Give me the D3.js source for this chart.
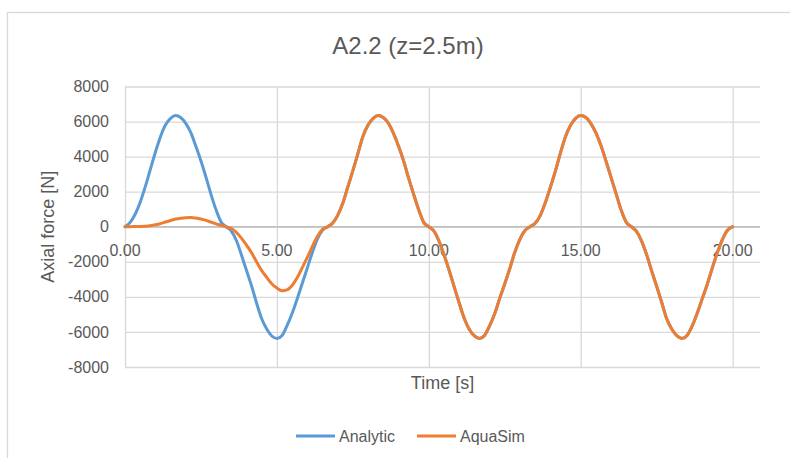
<!DOCTYPE html>
<html>
<head>
<meta charset="utf-8">
<script src="https://cdn.jsdelivr.net/npm/d3@7"></script>
<style>
body { margin: 0; background: #fff; }
text { font-family: "Liberation Sans", Arial, sans-serif; fill: #595959; }
</style>
</head>
<body>
<div id="drawingArea"></div>
<script>
// time samples [s]
var time = [
  0, 0.17, 0.33, 0.5, 0.67, 0.83,
  1, 1.17, 1.33, 1.5, 1.67, 1.83,
  2, 2.17, 2.33, 2.5, 2.67, 2.83,
  3, 3.17, 3.33, 3.5, 3.67, 3.83,
  4, 4.17, 4.33, 4.5, 4.67, 4.83,
  5, 5.17, 5.33, 5.5, 5.67, 5.83,
  6, 6.17, 6.33, 6.5, 6.67, 6.83,
  7, 7.17, 7.33, 7.5, 7.67, 7.83,
  8, 8.17, 8.33, 8.5, 8.67, 8.83,
  9, 9.17, 9.33, 9.5, 9.67, 9.83,
  10, 10.17, 10.33, 10.5, 10.67, 10.83,
  11, 11.17, 11.33, 11.5, 11.67, 11.83,
  12, 12.17, 12.33, 12.5, 12.67, 12.83,
  13, 13.17, 13.33, 13.5, 13.67, 13.83,
  14, 14.17, 14.33, 14.5, 14.67, 14.83,
  15, 15.17, 15.33, 15.5, 15.67, 15.83,
  16, 16.17, 16.33, 16.5, 16.67, 16.83,
  17, 17.17, 17.33, 17.5, 17.67, 17.83,
  18, 18.17, 18.33, 18.5, 18.67, 18.83,
  19, 19.17, 19.33, 19.5, 19.67, 19.83,
  20
];

// axial force [N]
var analytic = [
  0, 250, 700, 1400, 2300, 3250, 4250, 5150, 5800, 6180, 6340, 6230, 5900, 5350, 4600, 3750, 2800, 1850, 950, 250, 0,
  -250, -800, -1600, -2500, -3400, -4350, -5250, -5850, -6230, -6370, -6200, -5650, -4950, -4100, -3250, -2350, -1450, -700, -200, 0,
  200, 650, 1350, 2250, 3200, 4200, 5150, 5800, 6180, 6340, 6230, 5900, 5350, 4600, 3750, 2800, 1850, 950, 250, 0,
  -250, -800, -1600, -2500, -3400, -4350, -5250, -5850, -6230, -6370, -6200, -5650, -4950, -4100, -3250, -2350, -1450, -700, -200, 0,
  200, 650, 1350, 2250, 3200, 4200, 5150, 5800, 6180, 6340, 6230, 5900, 5350, 4600, 3750, 2800, 1850, 950, 250, 0,
  -250, -800, -1600, -2500, -3400, -4350, -5250, -5850, -6230, -6370, -6200, -5650, -4950, -4100, -3250, -2350, -1450, -700, -200, 0
];

var aquaSim = [
  0, 5, 10, 20, 35, 60, 110, 180, 270, 360, 440, 490, 520, 525, 495, 440, 360, 265, 165, 70, 0,
  -100, -330, -650, -1050, -1500, -2000, -2500, -2900, -3250, -3500, -3650, -3600, -3350, -2900, -2350, -1750, -1100, -550, -150, 0,
  200, 650, 1350, 2250, 3200, 4200, 5150, 5800, 6180, 6340, 6230, 5900, 5350, 4600, 3750, 2800, 1850, 950, 250, 0,
  -250, -800, -1600, -2500, -3400, -4350, -5250, -5850, -6230, -6370, -6200, -5650, -4950, -4100, -3250, -2350, -1450, -700, -200, 0,
  200, 650, 1350, 2250, 3200, 4200, 5150, 5800, 6180, 6340, 6230, 5900, 5350, 4600, 3750, 2800, 1850, 950, 250, 0,
  -250, -800, -1600, -2500, -3400, -4350, -5250, -5850, -6230, -6370, -6200, -5650, -4950, -4100, -3250, -2350, -1450, -700, -200, 0
];

var xTicks = [0, 5, 10, 15, 20];
var yTicks = [8000, 6000, 4000, 2000, 0, -2000, -4000, -6000, -8000];
var seriesNames = ["Analytic", "AquaSim"];
var colors = ["#5b9bd5", "#ed7d31"];

var W = 790, H = 458;
var plot = {left: 125, right: 760, top: 86.5, bottom: 367};

var svg = d3.select("#drawingArea").append("svg")
    .attr("width", W)
    .attr("height", H);

// chart border
svg.append("rect")
    .attr("x", 7.5).attr("y", 12.5)
    .attr("width", 802).attr("height", 470)
    .attr("fill", "#fff")
    .attr("stroke", "#d9d9d9")
    .attr("stroke-width", 1.3);

// scales
var x = d3.scaleLinear()
    .domain([0, 20.9])
    .range([plot.left, plot.right]);

var y = d3.scaleLinear()
    .domain([-8000, 8000])
    .range([plot.bottom, plot.top]);

// horizontal gridlines
svg.append("g")
    .attr("transform", "translate(" + plot.left + ",0)")
    .call(d3.axisLeft(y).tickValues(yTicks).tickSize(-(plot.right - plot.left)).tickFormat(""))
    .call(function(g) {
        g.select(".domain").remove();
        g.selectAll("line").attr("stroke", "#d9d9d9").attr("stroke-width", 1.3);
    });

// vertical gridlines
svg.append("g")
    .attr("transform", "translate(0," + plot.bottom + ")")
    .call(d3.axisBottom(x).tickValues(xTicks).tickSize(-(plot.bottom - plot.top)).tickFormat(""))
    .call(function(g) {
        g.select(".domain").remove();
        g.selectAll("line").attr("stroke", "#d9d9d9").attr("stroke-width", 1.3);
    });

// zero line (horizontal axis)
svg.append("line")
    .attr("x1", plot.left).attr("x2", plot.right)
    .attr("y1", y(0)).attr("y2", y(0))
    .attr("stroke", "#bfbfbf")
    .attr("stroke-width", 1.3);

// y tick labels
svg.selectAll(".ylab")
    .data(yTicks)
    .enter().append("text")
    .attr("class", "ylab")
    .attr("x", 109)
    .attr("y", function(d) { return y(d); })
    .attr("dy", "0.35em")
    .attr("text-anchor", "end")
    .style("font-size", "16px")
    .text(function(d) { return d; });

// x tick labels, next to the zero line
svg.selectAll(".xlab")
    .data(xTicks)
    .enter().append("text")
    .attr("class", "xlab")
    .attr("x", function(d) { return x(d); })
    .attr("y", y(0) + 24)
    .attr("dy", "0.35em")
    .attr("text-anchor", "middle")
    .style("font-size", "16px")
    .text(d3.format(".2f"));

// series
var line = d3.line()
    .x(function(d, i) { return x(time[i]); })
    .y(function(d) { return y(d); })
    .curve(d3.curveMonotoneX);

[analytic, aquaSim].forEach(function(s, k) {
    svg.append("path")
        .datum(s)
        .attr("d", line)
        .attr("fill", "none")
        .attr("stroke", colors[k])
        .attr("stroke-width", 3)
        .attr("stroke-linejoin", "round")
        .attr("stroke-linecap", "round");
});

// titles
svg.append("text")
    .attr("x", 408).attr("y", 46)
    .attr("dy", "0.35em")
    .attr("text-anchor", "middle")
    .style("font-size", "24px")
    .text("A2.2 (z=2.5m)");

svg.append("text")
    .attr("x", (plot.left + plot.right) / 2).attr("y", 383)
    .attr("dy", "0.35em")
    .attr("text-anchor", "middle")
    .style("font-size", "18px")
    .text("Time [s]");

svg.append("text")
    .attr("transform", "translate(48," + y(0) + ") rotate(-90)")
    .attr("dy", "0.35em")
    .attr("text-anchor", "middle")
    .style("font-size", "18px")
    .text("Axial force [N]");

// legend
var legendX = [296, 417];
var legend = svg.selectAll(".legend")
    .data(seriesNames)
    .enter().append("g")
    .attr("class", "legend")
    .attr("transform", function(d, i) { return "translate(" + legendX[i] + ",436)"; });

legend.append("line")
    .attr("x1", 0).attr("x2", 39)
    .attr("stroke", function(d, i) { return colors[i]; })
    .attr("stroke-width", 3);

legend.append("text")
    .attr("x", 43)
    .attr("dy", "0.35em")
    .style("font-size", "16px")
    .text(function(d) { return d; });
</script>
</body>
</html>
